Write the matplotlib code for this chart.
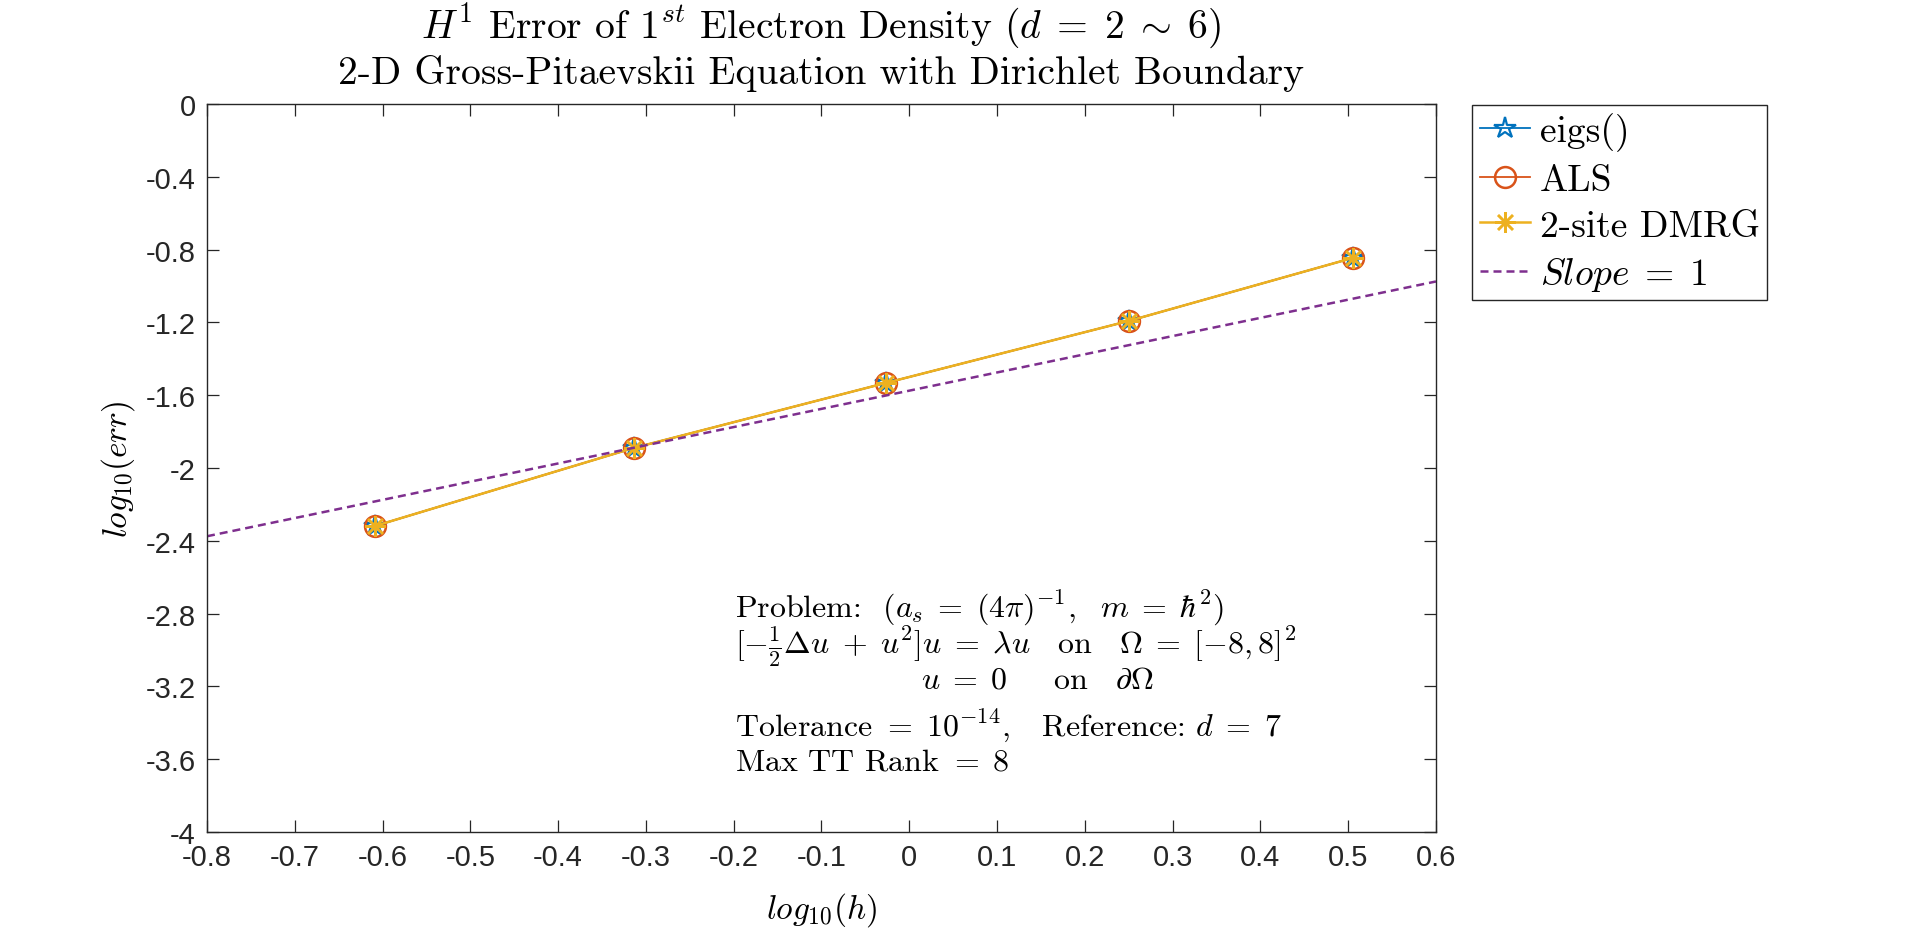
import matplotlib
matplotlib.use("Agg")
import matplotlib.pyplot as plt
from matplotlib.ticker import FuncFormatter, MultipleLocator

# log10(h) for d = 6 .. 2
log_h = [-0.609, -0.314, -0.027, 0.250, 0.505]
err_eigs = [-2.319, -1.890, -1.533, -1.192, -0.846]
err_als = [-2.319, -1.890, -1.533, -1.192, -0.846]
err_dmrg = [-2.319, -1.890, -1.533, -1.192, -0.846]
slope_x = [-0.8, 0.6]
slope_y = [-2.375, -0.975]

plt.rcParams['mathtext.fontset'] = 'cm'
plt.rcParams['axes.unicode_minus'] = False
serif = 'cmr10'
tick_font = 'Liberation Sans'
axcol = '#262626'

fig = plt.figure(figsize=(19.2, 9.37), dpi=100)
ax = fig.add_axes([0.1078, 0.111, 0.6401, 0.7769])

ax.plot(log_h, err_eigs, color='#0072BD', marker='*', markersize=16,
        markerfacecolor='none', markeredgewidth=1.6, linewidth=1.3, label='eigs()')
ax.plot(log_h, err_als, color='#D95319', marker='o', markersize=15,
        markerfacecolor='none', markeredgewidth=1.8, linewidth=1.3, label='ALS')
ax.plot(log_h, err_dmrg, color='#EDB120', marker=(8, 2, 0), markersize=15,
        markeredgewidth=1.8, linewidth=1.8, label='2-site DMRG')
ax.plot(slope_x, slope_y, color='#7E2F8E', linestyle=(0, (3.2, 2.0)),
        linewidth=1.8, label='$Slope\\;=\\;1$')

ax.set_xlim(-0.8, 0.6)
ax.set_ylim(-4, 0)
ax.xaxis.set_major_locator(MultipleLocator(0.1))
ax.yaxis.set_major_locator(MultipleLocator(0.4))
fmt = FuncFormatter(lambda v, p: '%g' % round(v, 6))
ax.xaxis.set_major_formatter(fmt)
ax.yaxis.set_major_formatter(fmt)
ax.tick_params(direction='in', length=8.5, width=0.9, top=True, right=True,
               color=axcol, labelcolor=axcol, labelsize=21, pad=8)
for lab in ax.get_xticklabels() + ax.get_yticklabels():
    lab.set_fontfamily(tick_font)
for s in ax.spines.values():
    s.set_color(axcol)
    s.set_linewidth(1.0)

ax.set_xlabel('$log_{10}(h)$', fontsize=24, labelpad=14)
ax.set_ylabel('$log_{10}(err)$', fontsize=24, labelpad=6)

ax.text(0.5, 1.092, r'$H^1$ Error of $1^{st}$ Electron Density $(d\;=\;2\;\sim\;6)$',
        transform=ax.transAxes, ha='center', va='baseline', fontsize=28.5, family=serif)
ax.text(0.5, 1.029, '2-D Gross-Pitaevskii Equation with Dirichlet Boundary',
        transform=ax.transAxes, ha='center', va='baseline', fontsize=28.5, family=serif)

tx = 0.4296
fs = 23
ax.text(tx, 0.296, r'Problem:  $(a_s\;=\;(4\pi)^{-1},\ \ m\;=\;\hbar^2)$',
        transform=ax.transAxes, fontsize=fs, family=serif, va='baseline')
ax.text(tx, 0.246, r'$[-\frac{1}{2}\Delta u\;+\;u^2]u\;=\;\lambda u\quad \mathrm{on}\quad \Omega\;=\;[-8,8]^2$',
        transform=ax.transAxes, fontsize=fs, va='baseline')
ax.text(0.581, 0.199, r'$u\;=\;0\quad\ \ \mathrm{on}\quad \partial\Omega$',
        transform=ax.transAxes, fontsize=fs, va='baseline')
ax.text(tx, 0.134, r'Tolerance $=\;10^{-14}$,   Reference: $d\;=\;7$',
        transform=ax.transAxes, fontsize=fs, family=serif, va='baseline')
ax.text(tx, 0.086, r'Max TT Rank $=\;8$',
        transform=ax.transAxes, fontsize=fs, family=serif, va='baseline')

leg = fig.legend(loc='upper left', bbox_to_anchor=(0.7667, 0.8869),
                 bbox_transform=fig.transFigure, borderaxespad=0,
                 prop={'family': serif, 'size': 27}, fancybox=False,
                 edgecolor=axcol, framealpha=1, handlelength=1.35,
                 handletextpad=0.25, labelspacing=0.33, borderpad=0.2)
leg.get_frame().set_linewidth(1.0)

fig.savefig('out.png', dpi=100)
